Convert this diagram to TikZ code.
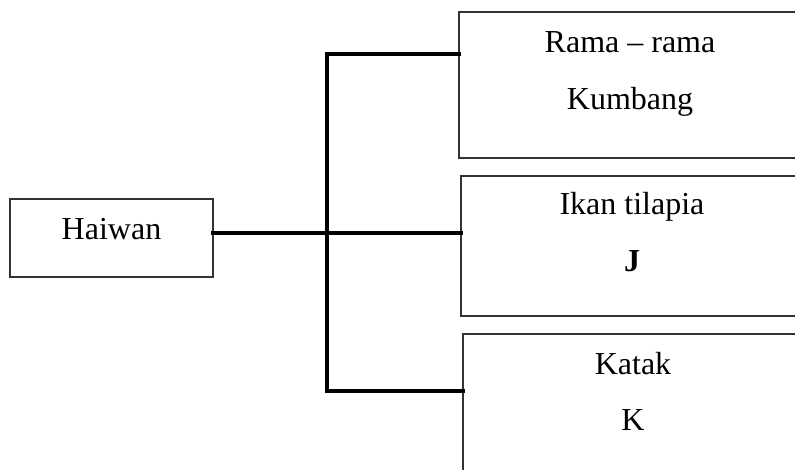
\documentclass[tikz,border=0pt]{standalone}
\usepackage{fontspec}
\setmainfont{Liberation Serif}
\usetikzlibrary{positioning}

\tikzset{
  box/.style={draw=black!80, line width=1.1pt, inner sep=0pt, outer sep=0pt},
  link/.style={line width=3.2pt, line cap=rect},
  txt/.style={anchor=base, inner sep=0pt, font=\fontsize{32}{38}\selectfont}
}

\begin{document}
\begin{tikzpicture}[x=1pt, y=-1pt]
\useasboundingbox (0,0) rectangle (795,470);
\clip (0,0) rectangle (795,470);

\node[box, minimum width=203pt, minimum height=78pt] (haiwan) at (111.5,238) {};
\node[box, minimum width=360pt, minimum height=146pt] (rama) at (639,85) {};
\node[box, minimum width=358pt, minimum height=140pt] (tilapia) at (640,246) {};
\node[box, minimum width=356pt, minimum height=176pt] (katak) at (641,422) {};

\node[txt] (thaiwan) at (111.5,240) {Haiwan};
\node[txt] (trama) at (630,53) {Rama – rama};
\node[txt] (tkumbang) at (630,110) {Kumbang};
\node[txt] (tikan) at (632,215) {Ikan tilapia};
\node[txt] (tj) at (632,272) {\textbf{J}};
\node[txt] (tkatak) at (633,374) {Katak};
\node[txt] (tk) at (633,430) {K};

\coordinate (jtop) at (327,54);
\coordinate (jmid) at (327,233);
\coordinate (jbot) at (327,391);

\draw[link] (haiwan.east |- jmid) -- (jmid -| tilapia.west);
\draw[link] (jtop -| rama.west) -- (jtop) -- (jbot) -- (jbot -| katak.west);

\end{tikzpicture}
\end{document}
